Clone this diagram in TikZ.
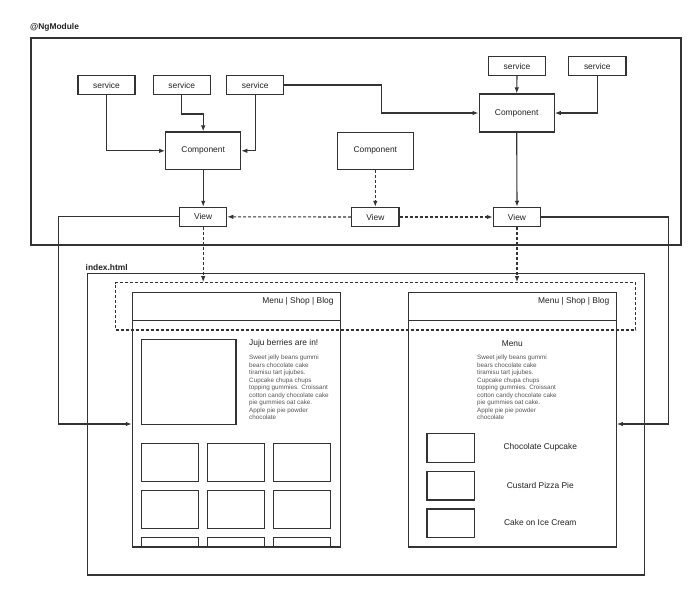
\documentclass[tikz,border=0pt]{standalone}
\usepackage{fontspec}
\setmainfont{Liberation Sans}
\usetikzlibrary{arrows.meta,calc}
\definecolor{ln}{HTML}{333333}
\definecolor{tx}{HTML}{222222}
\definecolor{para}{HTML}{555555}
\begin{document}
\begin{tikzpicture}[x=1pt,y=-1pt,
  every node/.style={text=tx,font=\fontsize{8.4}{10}\selectfont},
  boxn/.style={draw=ln,line width=1.1pt,fill=white,inner sep=0pt},
  frame/.style={draw=ln,line width=1.1pt},
  arr/.style={draw=ln,line width=1.1pt,-{Latex[length=6pt,width=4.5pt]}},
  darr/.style={arr,dash pattern=on 3pt off 2pt},
  dline/.style={draw=ln,line width=1.1pt,dash pattern=on 3pt off 2pt},
  lbl/.style={font=\fontsize{8.4}{10}\selectfont\bfseries,anchor=west,inner sep=0pt},
  paratext/.style={anchor=north west,inner sep=0pt,align=left,text=para,font=\fontsize{6.3}{7.5}\selectfont},
  thumb/.style={draw=ln,line width=1.1pt}
]
\useasboundingbox (0,0) rectangle (700,594);

% NgModule frame
\node[lbl] (nglbl) at (30,27) {@NgModule};
\node[frame,minimum width=650pt,minimum height=207pt,inner sep=0pt] (ng) at (356,141.5) {};

% services & components
\node[boxn,minimum width=57pt,minimum height=19.5pt] (s1) at (106.5,85) {service};
\node[boxn,minimum width=57pt,minimum height=19.5pt] (s2) at (181.8,85) {service};
\node[boxn,minimum width=57pt,minimum height=19.5pt] (s3) at (255.2,85) {service};
\node[boxn,minimum width=75pt,minimum height=37.7pt] (c1) at (203.2,150.8) {Component};
\node[boxn,minimum width=47pt,minimum height=19pt] (v1) at (203.2,216.8) {View};

\node[boxn,minimum width=57.4pt,minimum height=18.6pt] (sr1) at (517,66) {service};
\node[boxn,minimum width=57.3pt,minimum height=18.6pt] (sr2) at (597.3,66) {service};
\node[boxn,minimum width=75.3pt,minimum height=38pt] (cr) at (516.7,113) {Component};
\node[boxn,minimum width=47.4pt,minimum height=19.4pt] (vr) at (517,217) {View};

\node[boxn,minimum width=76pt,minimum height=37.3pt] (cm) at (375.3,150.7) {Component};
\node[boxn,minimum width=47.3pt,minimum height=19.3pt] (vm) at (375.3,217) {View};

% connectors in module
\draw[arr] (s1.south) |- (c1.west);
\draw[arr] (s2.south) -- ++(0,18.7) -| (c1.north);
\draw[arr] (s3.south) |- (c1.east);
\draw[arr] (s3.east) -- ++(97.3,0) |- (cr.west);
\draw[arr] (sr1.south) -- (cr.north);
\draw[arr] (sr2.south) |- (cr.east);
\draw[arr] (c1.south) -- (v1.north);
\draw[arr] (cr.south) -- (vr.north);
\draw[darr] (cm.south) -- (vm.north);
\draw[darr] (vm.west) -- (v1.east);
\draw[darr] (vm.east) -- (vr.west);

% index.html
\node[lbl] (idxlbl) at (85.5,267.5) {index.html};
\node[frame,minimum width=557pt,minimum height=301.3pt,inner sep=0pt] (idx) at (365.8,424.35) {};

% pages
\node[boxn,minimum width=208pt,minimum height=254.3pt] (p1) at (236.3,419.85) {};
\node[boxn,minimum width=207.6pt,minimum height=254.3pt] (p2) at (512.5,419.85) {};
\draw[ln,line width=1.1pt] (p1.west |- 0,320.7) -- (p1.east |- 0,320.7);
\draw[ln,line width=1.1pt] (p2.west |- 0,320.7) -- (p2.east |- 0,320.7);
\node[anchor=east,inner sep=0pt] (nav1) at (333.7,301) {Menu | Shop | Blog};
\node[anchor=east,inner sep=0pt] (nav2) at (609.5,301) {Menu | Shop | Blog};

% dashed region
\node[dline,minimum width=520pt,minimum height=47.3pt,inner sep=0pt] (dr) at (375.7,306.35) {};

% view connectors to pages
\draw[darr] (v1.south) -- (v1.south |- dr.north);
\draw[darr] (vr.south) -- (vr.south |- dr.north);
\coordinate (lc) at (58.7,424);
\coordinate (rc) at (668.3,424);
\draw[arr] (v1.west) -| (lc) -- (lc -| p1.west);
\draw[arr] (vr.east) -| (rc) -- (rc -| p2.east);

% page 1 contents
\node[thumb,minimum width=94.3pt,minimum height=85pt,inner sep=0pt] (img) at (188.85,381.8) {};
\node[anchor=west,inner sep=0pt] (juju) at (249,343.3) {Juju berries are in!};
\node[paratext] (para1) at (249,355.2) {Sweet jelly beans gummi\\bears chocolate cake\\tiramisu tart jujubes.\\Cupcake chupa chups\\topping gummies. Croissant\\cotton candy chocolate cake\\pie gummies oat cake.\\Apple pie pie powder\\chocolate};
\foreach \xa/\xb [count=\i] in {141.3/198.3,207.7/264.3,273.7/330.7}{
  \draw[thumb] (\xa,443.3) rectangle (\xb,481.3);
  \draw[thumb] (\xa,490.3) rectangle (\xb,528.3);
  \draw[thumb] (\xa,547) -- (\xa,537.3) -- (\xb,537.3) -- (\xb,547);
}

% page 2 contents
\node[inner sep=0pt] (menu) at (512.3,343.3) {Menu};
\node[paratext] (para2) at (477,355.2) {Sweet jelly beans gummi\\bears chocolate cake\\tiramisu tart jujubes.\\Cupcake chupa chups\\topping gummies. Croissant\\cotton candy chocolate cake\\pie gummies oat cake.\\Apple pie pie powder\\chocolate};
\node[thumb,minimum width=47.7pt,minimum height=28.6pt,inner sep=0pt] (t1) at (450.85,448) {};
\node[thumb,minimum width=47.7pt,minimum height=28.7pt,inner sep=0pt] (t2) at (450.85,485.65) {};
\node[thumb,minimum width=47.7pt,minimum height=28.7pt,inner sep=0pt] (t3) at (450.85,523.35) {};
\node[inner sep=0pt] (i1) at (540.3,447.5) {Chocolate Cupcake};
\node[inner sep=0pt] (i2) at (540.3,485.5) {Custard Pizza Pie};
\node[inner sep=0pt] (i3) at (540.3,522.5) {Cake on Ice Cream};
\end{tikzpicture}
\end{document}
